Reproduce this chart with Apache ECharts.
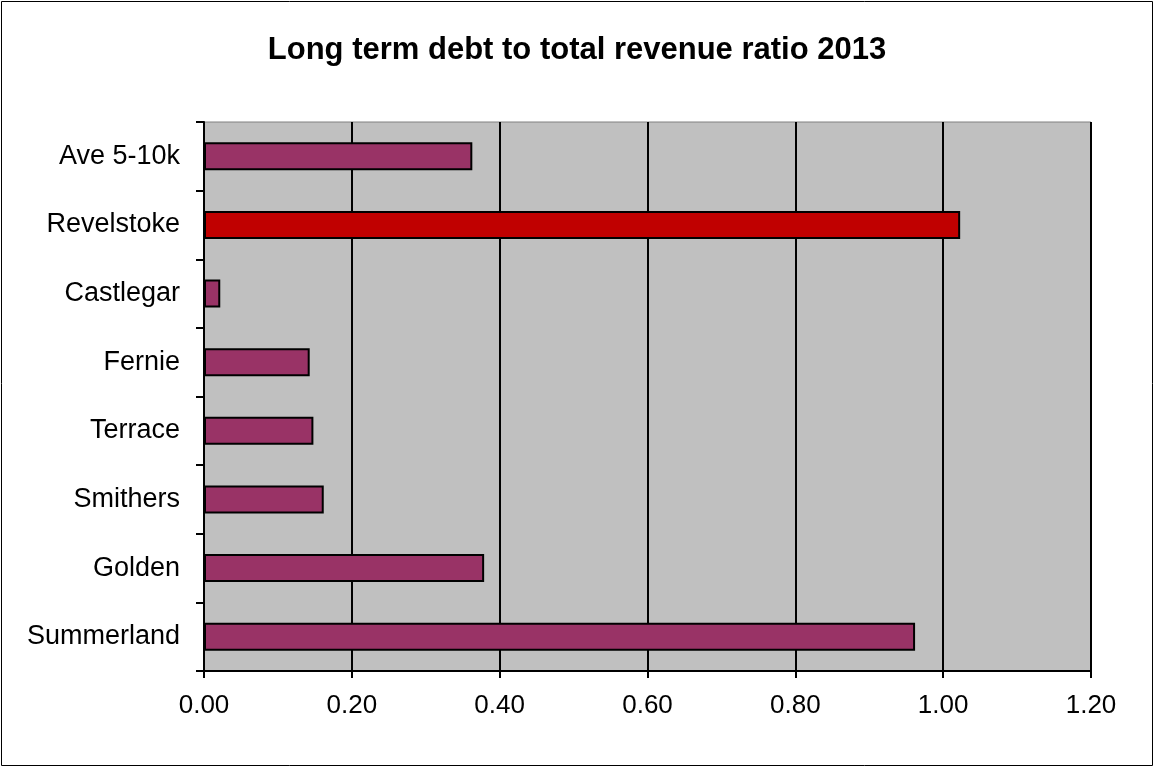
<!DOCTYPE html>
<html>
<head>
<meta charset="utf-8">
<script src="https://cdn.jsdelivr.net/npm/echarts@6/dist/echarts.min.js"></script>
<style>
html,body{margin:0;padding:0;background:#fff;}
#chart{width:1154px;height:768px;}
</style>
</head>
<body>
<div id="chart"></div>
<script>
var categories = ['Ave 5-10k', 'Revelstoke', 'Castlegar', 'Fernie', 'Terrace', 'Smithers', 'Golden', 'Summerland'];
var values = [0.363, 1.023, 0.022, 0.143, 0.148, 0.162, 0.379, 0.962];
var highlight = 'Revelstoke';
var xTicks = [0, 0.2, 0.4, 0.6, 0.8, 1.0, 1.2];

var chart = echarts.init(document.getElementById('chart'), null, {renderer: 'canvas'});
var font = '"Liberation Sans", Arial, sans-serif';
chart.setOption({
  animation: false,
  backgroundColor: '#ffffff',
  title: {
    text: 'Long term debt to total revenue ratio 2013',
    left: 'center',
    top: 30,
    textStyle: {fontFamily: font, fontSize: 31, fontWeight: 'bold', color: '#000'}
  },
  graphic: [{
    type: 'rect',
    shape: {x: 1.5, y: 1.5, width: 1151, height: 764},
    style: {fill: 'none', stroke: '#000', lineWidth: 1},
    silent: true
  }],
  grid: {
    left: 204, top: 122, right: 63, bottom: 97,
    show: true, backgroundColor: '#C0C0C0', borderColor: '#808080', borderWidth: 1
  },
  xAxis: {
    type: 'value',
    min: xTicks[0], max: xTicks[xTicks.length - 1], interval: 0.2,
    axisLine: {show: true, lineStyle: {color: '#000', width: 2}},
    axisTick: {show: true, length: 7, lineStyle: {color: '#000', width: 2}},
    splitLine: {show: true, lineStyle: {color: '#000', width: 2}},
    axisLabel: {
      fontFamily: font, fontSize: 26, color: '#000', margin: 22,
      formatter: function (v) { return v.toFixed(2); }
    }
  },
  yAxis: {
    type: 'category',
    data: categories,
    inverse: true,
    axisLine: {show: true, lineStyle: {color: '#000', width: 2}},
    axisTick: {show: true, length: 8, lineStyle: {color: '#000', width: 2}},
    splitLine: {show: false},
    axisLabel: {fontFamily: font, fontSize: 27, color: '#000', margin: 24}
  },
  series: [{
    type: 'bar',
    barWidth: 28,
    data: values.map(function (v, i) {
      return {
        value: v,
        itemStyle: {color: categories[i] === highlight ? '#C00000' : '#993366'}
      };
    }),
    itemStyle: {borderColor: '#000', borderWidth: 2}
  }]
});
</script>
</body>
</html>
